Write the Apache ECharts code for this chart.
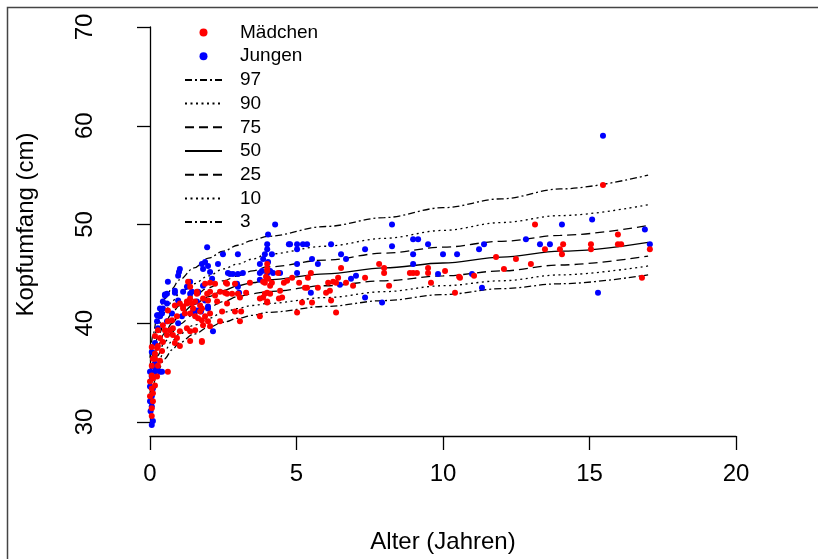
<!DOCTYPE html>
<html><head><meta charset="utf-8">
<script src="https://cdn.jsdelivr.net/npm/echarts/dist/echarts.min.js"></script>
<style>html,body{margin:0;padding:0;background:#fff}#c{width:818px;height:559px}</style>
</head><body><div id="c"></div>
<script>
// Mädchen (girls): [age in years, head circumference cm]
const maedchen = [
[0.06,37.6],[0.10,36.4],[0.06,35.7],[0.10,34.4],[0.00,34.1],[0.06,33.4],[0.10,32.9],[0.00,32.6],[0.06,31.4],[0.06,30.6],
[0.17,36.9],[0.24,37.5],[0.27,37.7],[0.17,36.4],[0.34,36.2],[0.61,35.1],[0.41,37.2],[0.44,38.1],[0.34,38.5],[0.17,38.7],
[0.58,38.8],[0.68,39.3],[0.78,39.5],[0.92,38.5],[1.02,37.7],[0.85,38.0],[0.27,39.3],[0.44,39.8],[0.61,40.2],[0.92,40.7],
[0.75,40.3],[1.13,41.5],[1.19,41.0],[1.37,41.0],[1.54,42.2],[1.43,42.0],[1.64,40.5],[1.54,39.3],[1.37,39.2],[1.26,39.5],
[1.02,39.2],[0.78,38.8],[0.51,39.3],[0.27,35.7],[0.24,34.6],[0.17,33.7],[0.10,32.1],[0.06,34.7],[0.61,41.3],[0.85,41.8],
[1.02,42.0],[1.60,43.0],[1.26,42.2],
[1.77,38.2],[1.37,38.2],[1.77,40.3],[1.88,44.0],[2.22,44.0],[1.95,43.0],[2.05,43.2],[2.22,42.8],[1.81,42.5],[1.98,42.3],
[2.29,42.2],[2.39,43.2],[1.60,43.2],[1.37,42.5],[1.26,42.0],[1.13,41.7],[1.47,41.5],[1.77,41.5],[2.05,41.0],[1.88,40.7],
[1.98,40.2],[1.81,39.8],[2.05,39.7],[1.30,44.2],[1.37,43.7],[1.71,41.8],[2.63,44.0],[2.90,44.0],[2.63,43.0],[2.80,43.0],
[3.00,43.0],[2.63,42.0],[2.90,41.2],[2.46,41.2],[3.07,40.2],[2.39,40.2],[1.71,41.2],[1.54,40.7],
[4.00,46.0],[4.00,45.3],[3.96,44.7],[4.03,44.5],[3.86,44.2],[3.92,43.0],[4.10,43.0],[3.75,42.5],[4.00,42.2],[3.75,40.7],
[4.44,43.3],[4.40,42.5],[3.41,44.1],[3.28,43.1],[3.07,42.6],[3.11,41.2],[2.59,44.1],[2.56,43.1],[2.05,44.1],[1.77,38.1],
[4.00,45.5],[3.92,44.1],[4.16,44.1],[4.10,43.8],[4.00,43.1],[3.86,42.6],[4.00,42.1],[4.37,45.1],[4.51,42.6],[4.57,44.1],
[4.68,44.3],[4.85,44.6],[5.09,44.1],[5.39,44.6],[5.49,45.1],[5.36,43.6],[5.53,42.1],[5.19,42.1],[5.02,41.1],[5.73,43.6],
[6.01,43.1],[6.14,43.3],[6.18,42.3],[6.08,44.1],[6.35,44.1],[6.42,44.6],[6.52,45.6],[6.69,44.1],[6.35,41.1],[6.93,43.8],
[7.34,44.6],[7.82,46.0],[7.99,45.6],[7.99,45.1],[8.16,43.8],[8.87,45.1],[8.98,45.1],[9.11,45.1],[9.49,45.6],[9.49,45.1],
[9.59,44.1],[10.07,45.3],[10.55,44.7],[10.58,44.6],[10.41,43.1],[11.06,44.8],[11.81,46.7],[6.25,44.2],[5.29,43.6],
[15.46,54.0],[13.14,50.0],[15.97,49.0],[12.49,46.5],[12.08,45.5],[13.00,46.0],[13.48,47.5],[13.99,47.5],[14.10,48.0],[14.06,47.0],
[15.05,48.0],[15.05,47.5],[15.97,48.0],[16.08,48.0],[17.06,47.5],[16.79,44.6]
];
// Jungen (boys)
const jungen = [
[0.06,29.7],[0.10,30.1],[0.02,31.1],[0.06,32.1],[0.06,32.6],[0.10,33.4],[0.06,34.6],[0.17,35.1],[0.34,35.1],[0.06,37.1],
[0.17,38.0],[0.27,39.5],[0.34,40.7],[0.44,41.5],[0.58,42.0],[0.51,42.9],[0.85,43.1],[0.96,42.3],[0.75,41.0],[1.09,40.7],
[0.96,40.0],[0.58,40.2],[0.24,40.8],[0.24,40.2],[0.41,41.0],[1.47,41.2],[1.13,43.2],[1.43,43.2],[1.64,43.1],[0.24,35.4],
[0.10,35.6],[0.41,35.1],[0.00,33.6],[0.00,32.1],[0.06,31.6],[0.17,35.9],[0.00,35.1],
[1.95,47.7],[0.61,44.2],[1.02,45.5],[0.99,45.2],[0.96,44.8],[0.85,43.3],[1.37,44.2],[1.26,43.7],[0.58,43.0],[0.51,42.8],
[0.44,42.2],[0.34,41.5],[0.27,40.8],[2.15,39.2],[1.98,41.7],[1.81,45.5],[1.88,46.2],[1.98,45.8],[2.05,45.2],[2.12,44.5],
[1.77,46.0],[2.49,47.0],[3.00,47.0],[2.32,46.0],[2.73,45.0],[2.83,45.0],[3.00,45.0],[1.64,43.2],[1.37,43.0],[1.60,41.3],
[1.98,41.5],[2.97,44.0],[3.00,43.7],
[4.27,50.0],[4.03,49.0],[4.00,48.0],[4.00,47.5],[3.92,47.0],[3.86,46.5],[3.75,46.0],[4.03,46.2],[4.78,48.0],[2.66,45.1],
[3.17,45.1],[1.81,43.8],[3.04,43.1],[3.82,45.3],[4.10,45.3],[1.88,42.3],[1.74,41.2],[1.60,42.2],
[4.16,47.0],[3.75,45.1],[4.00,45.1],[4.20,45.1],[4.44,45.1],[3.75,44.4],[4.00,44.6],[4.74,48.0],[5.02,48.0],[5.02,47.5],
[5.22,48.0],[5.36,48.0],[5.02,46.0],[5.53,46.5],[5.73,46.0],[5.02,45.1],[6.18,48.0],[6.52,47.0],[6.69,46.5],[6.86,44.5],
[7.03,44.8],[7.34,47.5],[7.34,42.6],[8.26,50.0],[8.26,47.8],[7.92,42.1],[8.98,48.5],[9.15,48.5],[9.49,48.0],[8.98,47.0],
[8.98,46.0],[10.00,47.0],[10.48,47.0],[9.83,45.0],[10.99,45.0],[11.23,47.5],[11.40,48.0],[11.33,43.6],[5.49,43.1],[6.48,43.9],
[15.46,59.0],[15.09,50.5],[14.06,50.0],[12.83,48.5],[13.31,48.0],[13.65,48.0],[16.89,49.5],[17.06,48.0],[15.29,43.1]
];
// percentile reference curves
const curveAges = [0,0.1,0.25,0.5,0.75,1,1.5,2,2.5,3,3.5,4,6,8,10,12,14,17];
const p97 = [36.5,38.8,40.8,42.5,43.5,44.4,45.6,46.6,47.3,47.9,48.4,48.8,49.8,50.7,51.7,52.6,53.6,55.0];
const p90 = [35.7,37.8,39.6,41.1,42.2,43.0,44.0,44.8,45.5,46.0,46.5,47.0,47.8,48.6,49.4,50.2,50.9,52.0];
const p75 = [35.0,36.9,38.5,40.0,41.0,41.8,42.8,43.6,44.3,44.8,45.3,45.7,46.4,47.1,47.7,48.3,48.9,49.9];
const p50 = [34.3,36.0,37.6,39.0,40.0,40.8,41.9,42.7,43.3,43.8,44.1,44.4,45.0,45.6,46.1,46.7,47.3,48.2];
const p25 = [33.6,35.2,36.7,38.1,39.1,39.9,40.9,41.6,42.2,42.7,43.0,43.2,43.8,44.3,44.8,45.3,45.9,46.8];
const p10 = [32.9,34.4,35.9,37.2,38.2,38.9,39.8,40.5,41.1,41.5,41.8,42.0,42.6,43.2,43.8,44.3,44.9,45.8];
const p3  = [32.2,33.7,35.1,36.4,37.3,38.0,38.9,39.6,40.1,40.5,40.8,41.1,41.7,42.3,42.9,43.5,44.0,44.9];
const percentileNames = ['97','90','75','50','25','10','3'];
const percentileValues = [p97,p90,p75,p50,p25,p10,p3];
const groupNames = ['Mädchen','Jungen'];

const FONT = 'Liberation Sans, Arial, Helvetica, sans-serif';
const dashStyles = {
  '97':[7,3,2,3], '90':[2,3.5], '75':[9,5], '50':'solid', '25':[9,5], '10':[2,3.5], '3':[7,3,2,3]
};

const lineSeries = percentileNames.map((nm, i) => ({
  name: nm, type: 'line', smooth: 0.35, smoothMonotone: 'x',
  symbol: 'none', showSymbol: false, silent: true, z: 3,
  data: curveAges.map((a, k) => [a, percentileValues[i][k]]),
  lineStyle: { color: '#000', width: 1.3, type: dashStyles[nm] },
  itemStyle: { color: '#000' }
}));

const chart = echarts.init(document.getElementById('c'), null, {renderer: 'canvas'});
chart.setOption({
  animation: false,
  backgroundColor: '#fff',
  textStyle: { fontFamily: FONT },
  graphic: [{
    type: 'rect', left: 5, top: 5, silent: true,
    shape: { width: 900, height: 700 },
    style: { fill: 'none', stroke: '#444', lineWidth: 1.5 }
  }],
  grid: { left: 150, right: 82, top: 27, bottom: 135, containLabel: false },
  xAxis: {
    type: 'value', min: 0, max: 20, interval: 5, offset: 14,
    name: 'Alter (Jahren)', nameLocation: 'middle', nameGap: 94,
    nameTextStyle: { fontSize: 24, color: '#000', fontFamily: FONT },
    axisLine: { show: true, lineStyle: { color: '#000', width: 1.3 } },
    axisTick: { show: true, length: 14, lineStyle: { color: '#000', width: 1.3 } },
    axisLabel: { fontSize: 24, color: '#000', margin: 26, fontFamily: FONT },
    splitLine: { show: false }
  },
  yAxis: {
    type: 'value', min: 30, max: 70, interval: 10, offset: 23,
    name: 'Kopfumfang (cm)', nameLocation: 'middle', nameGap: 89,
    nameTextStyle: { fontSize: 24, color: '#000', fontFamily: FONT },
    axisLine: { show: true, lineStyle: { color: '#000', width: 1.3 } },
    axisTick: { show: true, length: 13, lineStyle: { color: '#000', width: 1.3 } },
    axisLabel: { fontSize: 24, color: '#000', margin: 30, rotate: 90, fontFamily: FONT },
    splitLine: { show: false }
  },
  legend: {
    orient: 'vertical', left: 179, top: 18,
    itemWidth: 37, itemHeight: 8, itemGap: 4.7,
    textStyle: { fontSize: 19, color: '#000', fontFamily: FONT, lineHeight: 19, padding: [0,0,0,13] },
    data: [
      { name: groupNames[0], icon: 'circle' },
      { name: groupNames[1], icon: 'circle' }
    ].concat(percentileNames.map(n => ({
      name: n,
      itemStyle: { color: 'rgba(0,0,0,0)', borderWidth: 0, opacity: 0 }
    })))
  },
  series: [
    { name: groupNames[1], type: 'scatter', data: jungen, symbolSize: 6, clip: false, z: 4,
      itemStyle: { color: '#0000FF', opacity: 1 } },
    { name: groupNames[0], type: 'scatter', data: maedchen, symbolSize: 6, clip: false, z: 5,
      itemStyle: { color: '#FF0000', opacity: 1 } }
  ].concat(lineSeries)
});
</script>
</body></html>
